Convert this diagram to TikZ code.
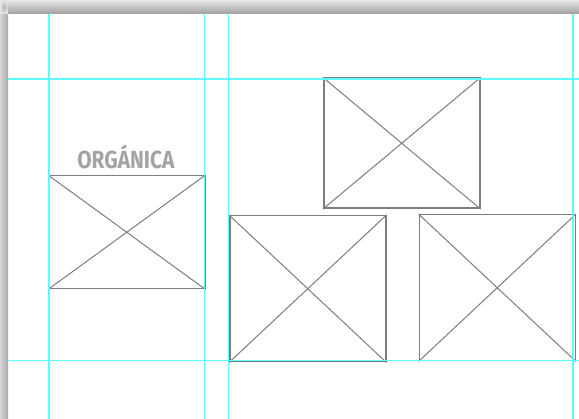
\documentclass[tikz,border=0pt]{standalone}
\usepackage{fontspec}
\newfontfamily\labelfont{Fira Sans}
\definecolor{guide}{HTML}{5CFFFF}
\definecolor{boxgray}{HTML}{7D7D7D}
\definecolor{textgray}{HTML}{A3A3A3}
\begin{document}
\begin{tikzpicture}[x=1pt,y=-1pt,
  wire/.style={draw=boxgray,line width=1.5pt,rectangle,inner sep=0pt,minimum width=#1},
  guideline/.style={draw=guide,line width=1.4pt},
  cross/.style={draw=boxgray,line width=1pt}]
\useasboundingbox (0,0) rectangle (579,419);
\fill[white] (0,0) rectangle (579,419);
% shadows
\shade[top color=black!9,bottom color=black!38] (0,0) rectangle (579,14);
\shade[left color=black!16,right color=black!33] (0,14) rectangle (8,419);
\shade[inner color=black!30,outer color=black!10] (0,0) rectangle (8,14);
% boxes
\node[wire=156pt,minimum height=113pt,anchor=north west] (a) at (48,175) {};
\node[wire=156pt,minimum height=130pt,anchor=north west] (b) at (323,77.5) {};
\node[wire=156pt,minimum height=146pt,anchor=north west] (c) at (229,215) {};
\node[wire=156pt,minimum height=146pt,anchor=north west] (d) at (418.5,214) {};
\foreach \n in {a,b,c,d}{
  \draw[cross] (\n.north west) -- (\n.south east);
  \draw[cross] (\n.north east) -- (\n.south west);
}
% guides
\coordinate (g1t) at (49,14); \coordinate (g1b) at (49,419);
\coordinate (g2t) at (204.5,14); \coordinate (g2b) at (204.5,419);
\coordinate (g3t) at (228.5,14); \coordinate (g3b) at (228.5,419);
\coordinate (g4t) at (573,14); \coordinate (g4b) at (573,419);
\coordinate (h1l) at (8,79); \coordinate (h1r) at (579,79);
\coordinate (h2l) at (8,360.5); \coordinate (h2r) at (579,360.5);
\draw[guideline] (g1t) -- (g1b);
\draw[guideline] (g2t) -- (g2b);
\draw[guideline] (g3t) -- (g3b);
\draw[guideline] (g4t) -- (g4b);
\draw[guideline] (h1l) -- (h1r);
\draw[guideline] (h2l) -- (h2r);
% label
\node[anchor=base,inner sep=0pt,text=textgray] (lbl) at (125.8,168.5)
  {\scalebox{0.845}[1]{\labelfont\bfseries\fontsize{24.7}{25}\selectfont ORGÁNICA}};
\end{tikzpicture}
\end{document}
